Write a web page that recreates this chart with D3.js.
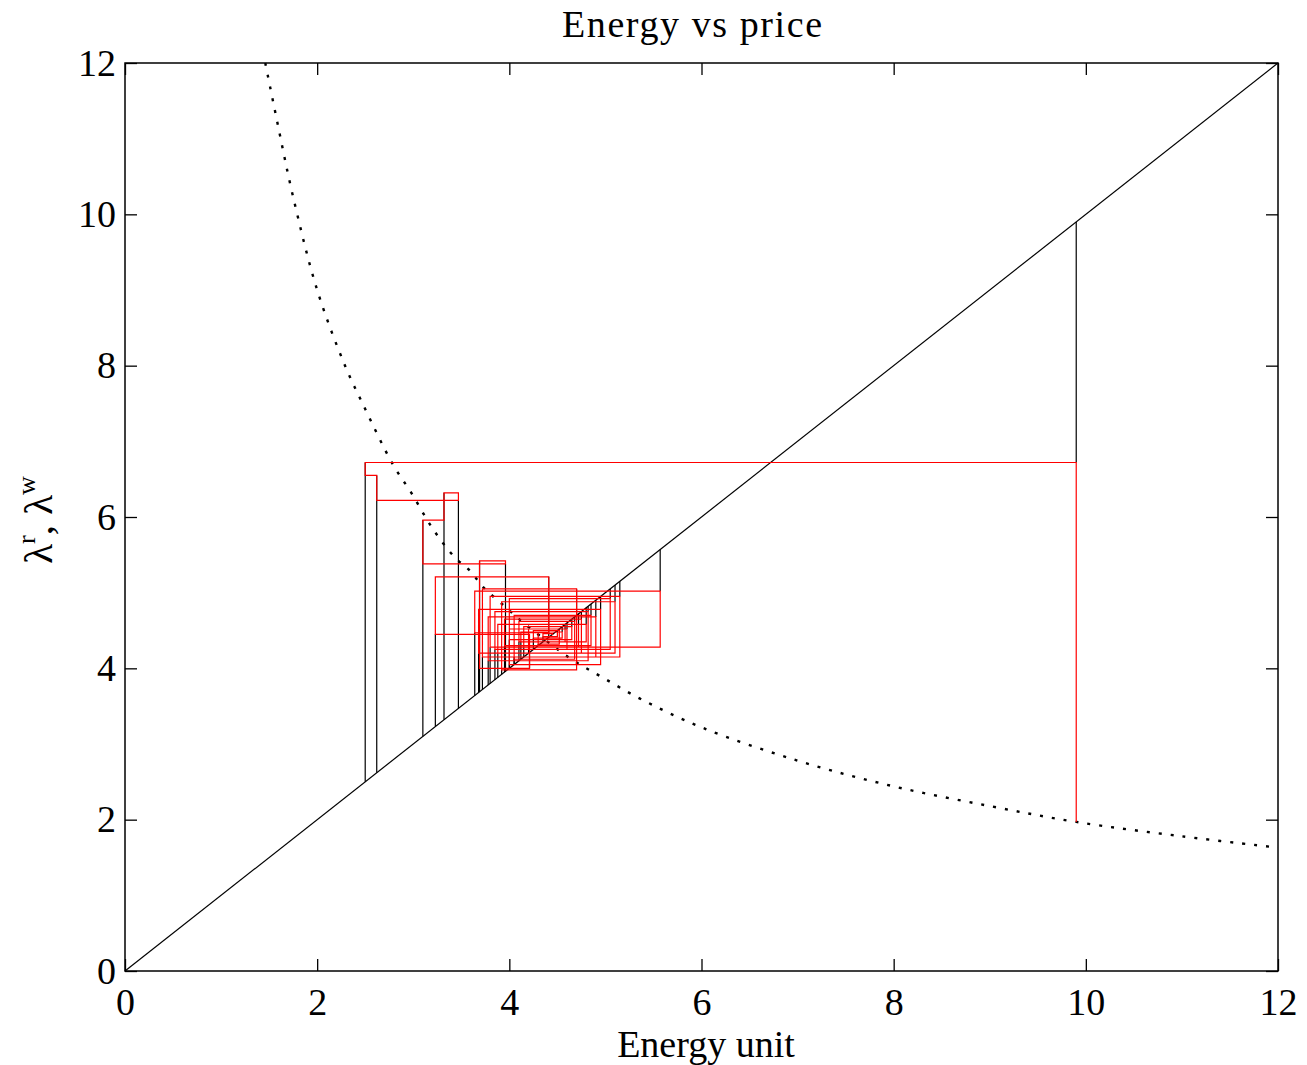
<!DOCTYPE html>
<html>
<head>
<meta charset="utf-8">
<script src="https://cdn.jsdelivr.net/npm/d3@7"></script>
<style>
body { margin: 0; background: #fff; }
text { font-family: "Liberation Serif", "DejaVu Serif", serif; fill: #000; }
</style>
</head>
<body>
<div id="chart"></div>
<script>
// tick values
var xTicks = [0, 2, 4, 6, 8, 10, 12]
var yTicks = [0, 2, 4, 6, 8, 10, 12]

// dotted curve
var curveX = [1.46, 1.58, 1.75, 2.0, 2.29, 2.48, 2.79, 2.98, 3.2, 3.43, 3.59, 3.73, 3.97, 4.14, 4.4, 4.66, 4.97, 5.36, 6.0, 7.0, 8.0, 9.0, 9.9, 11.0, 12.0]
var curveY = [12.0, 11.25, 10.23, 9.0, 8.0, 7.48, 6.69, 6.32, 5.85, 5.47, 5.29, 5.07, 4.80, 4.61, 4.35, 4.11, 3.88, 3.60, 3.22, 2.78, 2.44, 2.18, 1.97, 1.78, 1.63]

// iterations: energy and price
var startPrice = 1.97
var energy = [9.90, 2.50, 2.62, 3.47, 3.32, 3.10, 3.96, 3.69, 4.21, 3.23, 4.41, 3.64, 5.57,
	3.80, 5.15, 3.72, 4.70, 3.92, 5.10, 3.68, 4.95, 4.00, 5.05, 3.85, 4.82, 3.78, 4.90, 4.05, 4.85,
	3.95, 4.75, 3.88, 4.80, 4.10, 4.68, 4.05, 4.72, 4.15, 4.65, 4.00, 4.60, 4.20, 4.58, 4.12, 4.55,
	4.25, 4.52, 4.30, 4.50, 4.35, 4.45]
var price  = [6.72, 6.55, 6.22, 6.32, 5.96, 5.38, 5.42, 4.00, 4.45, 5.21, 4.47, 5.02, 4.28,
	4.95, 4.15, 5.05, 3.98, 4.88, 4.20, 4.78, 4.05, 4.92, 4.25, 4.75, 4.10, 4.68, 4.15, 4.70, 4.30,
	4.65, 4.20, 4.58, 4.35, 4.62, 4.12, 4.58, 4.28, 4.55, 4.38, 4.52, 4.25, 4.52, 4.35, 4.48, 4.40,
	4.50, 4.32, 4.48, 4.42, 4.46, 4.44]

var W = 1307, H = 1065
var svg = d3.select("#chart").append("svg").attr("width", W).attr("height", H)

var x = d3.scaleLinear().domain([0, 12]).range([125, 1278])
var y = d3.scaleLinear().domain([0, 12]).range([971, 63])

// diagonal
svg.append("line")
	.attr("x1", x(0)).attr("y1", y(0))
	.attr("x2", x(12)).attr("y2", y(12))
	.attr("stroke", "#000").attr("stroke-width", 1.2)

// dotted curve
var curvePts = curveX.map(function(d, i){ return [d, curveY[i]] })
svg.append("path")
	.attr("d", d3.line().x(function(d){return x(d[0])}).y(function(d){return y(d[1])}).curve(d3.curveCatmullRom)(curvePts))
	.attr("fill", "none")
	.attr("stroke", "#000")
	.attr("stroke-width", 2.4)
	.attr("stroke-dasharray", "3,9")

// black verticals: from the diagonal to the price they arrive at
var blackSegs = energy.map(function(e, i){
	var level = i == 0 ? price[0] : price[i - 1]
	return {e: e, p: level}
})
svg.selectAll("line.black").data(blackSegs).enter()
	.append("line")
	.attr("class", "black")
	.attr("x1", function(d){return x(d.e)})
	.attr("x2", function(d){return x(d.e)})
	.attr("y1", function(d){return y(d.e)})
	.attr("y2", function(d){return y(d.p)})
	.attr("stroke", "#000")
	.attr("stroke-width", 1.2)

// red staircase path
var redPts = [[energy[0], startPrice], [energy[0], price[0]]]
for (var i = 1; i < energy.length; i++) {
	redPts.push([energy[i], price[i - 1]])
	redPts.push([energy[i], price[i]])
}
svg.append("path")
	.attr("d", d3.line().x(function(d){return x(d[0])}).y(function(d){return y(d[1])})(redPts))
	.attr("fill", "none")
	.attr("stroke", "#ff0000")
	.attr("stroke-width", 1.2)

// axes with inward ticks
function styleAxis(g) {
	g.select(".domain").remove()
	g.selectAll(".tick line").attr("stroke", "#000").attr("stroke-width", 1.3)
	g.selectAll("text").style("font-family", '"Liberation Serif", serif').style("font-size", "38px").attr("fill", "#000")
}

svg.append("g").attr("transform", "translate(0," + y(0) + ")")
	.call(d3.axisBottom(x).tickValues(xTicks).tickFormat(d3.format("d")).tickSizeInner(-12).tickSizeOuter(0).tickPadding(17))
	.call(styleAxis)
svg.append("g").attr("transform", "translate(0," + y(12) + ")")
	.call(d3.axisTop(x).tickValues(xTicks).tickFormat("").tickSizeInner(-12).tickSizeOuter(0))
	.call(styleAxis)
svg.append("g").attr("transform", "translate(" + x(0) + ",0)")
	.call(d3.axisLeft(y).tickValues(yTicks).tickFormat(d3.format("d")).tickSizeInner(-12).tickSizeOuter(0).tickPadding(9))
	.call(styleAxis)
svg.append("g").attr("transform", "translate(" + x(12) + ",0)")
	.call(d3.axisRight(y).tickValues(yTicks).tickFormat("").tickSizeInner(-12).tickSizeOuter(0))
	.call(styleAxis)

// box
svg.append("rect")
	.attr("x", x(0)).attr("y", y(12))
	.attr("width", x(12) - x(0)).attr("height", y(0) - y(12))
	.attr("fill", "none").attr("stroke", "#000").attr("stroke-width", 1.5)

// title and labels
svg.append("text")
	.attr("x", 692).attr("y", 37)
	.attr("text-anchor", "middle")
	.style("font-size", "38px")
	.attr("textLength", 260)
	.text("Energy vs price")

svg.append("text")
	.attr("x", 706).attr("y", 1057)
	.attr("text-anchor", "middle")
	.style("font-size", "38px")
	.text("Energy unit")

var yl = svg.append("text")
	.attr("transform", "translate(52,520) rotate(-90)")
	.attr("text-anchor", "middle")
	.style("font-size", "41px")
yl.append("tspan").text("λ")
yl.append("tspan").attr("dy", -17).style("font-size", "26px").text("r")
yl.append("tspan").attr("dy", 17).text(", λ")
yl.append("tspan").attr("dy", -17).style("font-size", "26px").text("w")
</script>
</body>
</html>
